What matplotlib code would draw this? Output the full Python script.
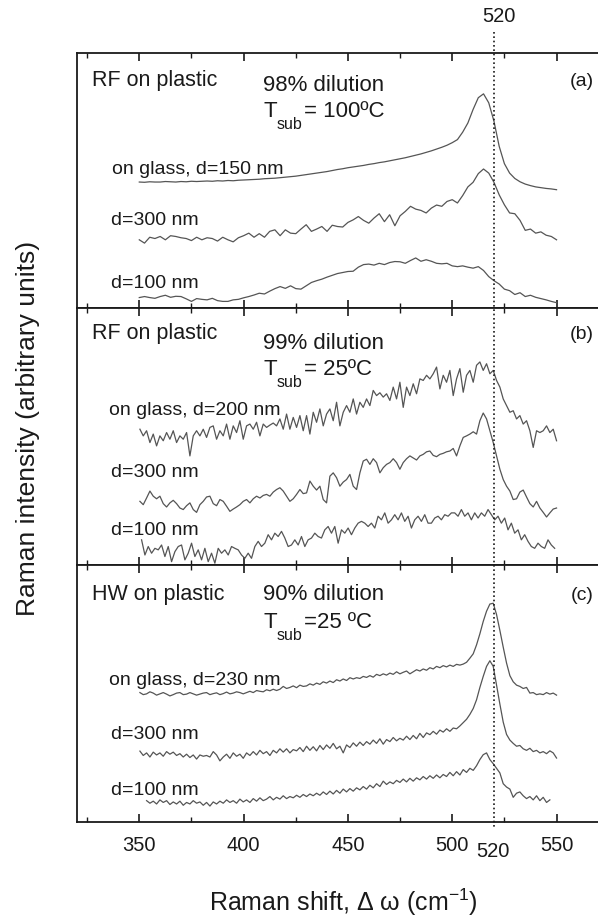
import numpy as np
import matplotlib.pyplot as plt
from matplotlib.lines import Line2D
from matplotlib.ticker import MultipleLocator
from matplotlib.transforms import blended_transform_factory

plt.rcParams['font.family'] = ['Liberation Sans', 'DejaVu Sans']

W, H = 598, 921

# (a) RF on plastic, 98% dilution, Tsub = 100 C
a_glass = [49.4, 49.3, 49.5, 49.4, 49.4, 49.6, 49.5, 49.4, 49.6, 49.5, 49.7,
           49.6, 49.7, 49.8, 49.7, 49.9, 49.8, 50.0, 49.9, 50.1, 50.2,
           50.3, 50.4, 50.5, 50.7, 50.8, 50.9, 51.1, 51.3, 51.5, 51.7,
           52.0, 52.3, 52.6, 52.9, 53.2, 53.5, 53.9, 54.3, 54.6, 55.0,
           55.3, 55.6, 55.9, 56.3, 56.6, 57.0, 57.3, 57.7, 58.1, 58.5,
           58.9, 59.4, 59.9, 60.4, 61.0, 61.6, 62.3, 63.0, 63.8, 64.8,
           66.0, 68.9, 72.5, 77.8, 82.4, 83.9, 80.4, 73.2, 63.4, 56.6,
           52.9, 50.8, 49.5, 48.6, 48.0, 47.5, 47.2, 46.9, 46.7, 46.4]
a_300 = [26.8, 25.5, 27.8, 27.3, 28.1, 26.8, 28.4, 28.1, 27.6, 27.3, 26.5,
         27.8, 26.8, 27.6, 27.3, 26.3, 27.8, 26.8, 26.0, 27.6, 28.4,
         29.4, 27.8, 29.2, 27.8, 30.1, 30.7, 28.4, 30.7, 29.4, 29.2,
         31.0, 32.7, 30.1, 31.0, 32.0, 30.1, 32.5, 32.0, 31.8, 33.6,
         34.6, 35.9, 34.4, 33.3, 35.3, 37.0, 33.9, 36.6, 32.3, 36.2,
         37.9, 39.9, 38.8, 38.3, 37.3, 39.2, 40.4, 39.9, 41.8, 42.5,
         41.2, 44.1, 47.5, 49.3, 52.7, 54.5, 52.9, 49.3, 44.4, 40.5,
         37.3, 37.0, 34.4, 30.5, 31.0, 29.4, 29.9, 28.6, 28.1, 26.8]
a_100 = [4.2, 4.6, 4.2, 3.9, 4.6, 5.1, 4.3, 4.7, 4.6, 3.7, 2.7,
         3.8, 3.5, 3.3, 3.9, 3.0, 2.7, 2.7, 3.3, 3.5, 4.1,
         4.6, 5.2, 5.9, 5.6, 6.7, 7.7, 8.5, 7.8, 8.8, 7.7,
         7.5, 8.8, 10.1, 10.8, 11.4, 12.2, 12.9, 13.6, 14.0, 14.4,
         14.5, 16.1, 17.1, 17.3, 16.9, 17.6, 17.1, 17.9, 18.3, 18.2,
         17.6, 18.7, 19.7, 18.4, 19.0, 18.4, 17.6, 17.4, 17.6, 16.6,
         16.3, 16.6, 16.1, 15.7, 16.3, 14.8, 12.4, 10.8, 9.5, 7.5,
         6.9, 5.4, 6.1, 4.6, 5.1, 4.3, 3.8, 3.3, 2.7, 2.2]

# (b) RF on plastic, 99% dilution, Tsub = 25 C
b_glass = [52.9, 50.3, 52.3, 47.7, 51.0, 46.4, 50.3, 48.4, 51.6, 49.0,
           52.3, 47.7, 50.3, 49.0, 51.6, 42.5, 50.3, 52.3, 50.3, 52.9,
           49.7, 53.6, 54.2, 49.0, 52.3, 50.3, 54.9, 49.0, 54.2, 51.6,
           56.2, 49.0, 54.2, 54.9, 52.9, 55.6, 50.3, 54.9, 53.6, 54.5,
           55.3, 54.2, 56.9, 52.9, 58.8, 52.9, 57.5, 53.6, 58.2, 52.3,
           58.2, 51.0, 59.5, 55.6, 60.8, 54.2, 58.8, 60.8, 56.2, 63.4,
           54.2, 59.5, 62.1, 59.5, 64.7, 58.8, 63.4, 61.4, 64.7, 62.1,
           68.0, 66.0, 67.1, 65.4, 66.7, 64.1, 69.3, 64.7, 71.2, 61.4,
           69.3, 66.0, 70.6, 66.7, 72.5, 71.9, 73.9, 72.5, 74.5, 77.1,
           68.6, 73.9, 71.2, 75.8, 66.0, 72.5, 76.5, 67.3, 73.9, 75.8,
           71.2, 77.8, 79.1, 75.8, 78.4, 74.5, 75.8, 71.9, 69.3, 64.7,
           62.1, 59.5, 60.1, 56.9, 58.2, 54.9, 56.2, 52.3, 45.8, 52.3,
           51.6, 52.3, 54.2, 51.6, 52.9, 48.4]
b_300 = [24.8, 23.5, 26.1, 28.8, 26.8, 25.8, 26.8, 23.9, 22.6, 24.2,
         25.2, 23.9, 22.2, 21.6, 23.1, 24.2, 21.6, 20.5, 23.5, 24.8,
         26.5, 26.8, 23.9, 23.1, 25.5, 24.8, 22.9, 20.9, 21.8, 22.6,
         23.5, 24.8, 25.5, 24.2, 25.8, 26.8, 26.1, 27.1, 27.5, 26.8,
         28.4, 29.4, 30.1, 28.8, 26.8, 24.8, 25.8, 27.5, 29.4, 27.8,
         28.1, 32.7, 30.7, 29.2, 30.7, 25.5, 24.2, 34.6, 35.9, 34.0,
         30.7, 32.3, 33.3, 35.3, 30.7, 29.4, 35.9, 40.5, 41.2, 39.2,
         41.4, 39.9, 35.9, 37.9, 39.2, 39.9, 41.4, 39.9, 37.3, 39.9,
         41.4, 42.5, 41.7, 40.9, 42.5, 43.1, 44.1, 44.4, 42.7, 42.2,
         43.1, 43.5, 44.1, 44.4, 45.4, 42.5, 46.4, 49.7, 50.3, 51.0,
         51.9, 51.0, 56.2, 59.2, 56.9, 52.3, 47.7, 42.5, 37.3, 33.3,
         30.7, 28.8, 25.5, 25.8, 28.4, 29.2, 26.5, 23.9, 22.6, 24.8,
         22.2, 20.5, 18.7, 20.3, 21.8, 22.2]
b_100 = [9.8, 3.9, 7.2, 4.6, 6.5, 5.9, 7.8, 3.3, 7.2, 1.3,
         5.2, 7.2, 7.8, 2.0, 4.6, 8.5, 3.3, 5.9, 2.0, 6.5,
         1.3, 4.6, 0.7, 6.5, 4.6, 5.9, 3.9, 7.2, 6.5, 5.9,
         3.9, 2.6, 4.6, 2.6, 7.2, 9.2, 7.2, 8.5, 11.8, 9.8,
         12.4, 11.1, 13.1, 10.5, 7.2, 7.8, 9.8, 7.8, 11.1, 7.2,
         9.8, 10.5, 12.4, 11.1, 10.5, 13.7, 15.0, 12.4, 15.0, 8.5,
         13.7, 12.4, 14.4, 11.8, 14.4, 16.3, 17.0, 16.3, 15.0, 16.3,
         14.4, 19.0, 17.6, 20.3, 16.3, 17.6, 19.6, 17.6, 20.3, 17.0,
         19.0, 14.4, 17.6, 19.0, 17.0, 19.6, 16.3, 16.3, 18.3, 19.0,
         17.6, 19.6, 19.0, 20.3, 20.3, 19.0, 21.6, 19.0, 20.3, 17.6,
         20.3, 18.3, 20.3, 19.0, 21.6, 19.6, 17.6, 19.0, 16.3, 18.3,
         13.7, 16.3, 12.4, 13.7, 9.8, 11.8, 9.2, 7.2, 6.5, 8.5,
         7.2, 6.5, 9.8, 7.8, 6.5]

# (c) HW on plastic, 90% dilution, Tsub = 25 C
c_glass = [50.3, 49.5, 49.8, 50.6, 50.1, 49.3, 49.8, 50.3, 49.7, 49.0,
           49.5, 50.1, 50.3, 49.5, 49.7, 50.3, 49.8, 49.3, 49.7, 50.1,
           50.3, 49.5, 49.9, 50.2, 49.5, 49.9, 50.5, 49.8, 50.1, 50.6,
           50.3, 49.8, 50.3, 50.8, 50.3, 51.1, 50.8, 50.6, 51.4, 51.0,
           51.6, 51.1, 51.6, 52.7, 51.9, 52.3, 52.9, 52.2, 53.2, 52.7,
           52.9, 53.7, 53.2, 54.0, 53.5, 54.5, 54.0, 54.8, 54.2, 55.3,
           54.8, 55.6, 55.0, 56.1, 55.6, 56.1, 55.8, 56.6, 56.2, 56.9,
           56.3, 57.4, 56.9, 57.6, 57.1, 57.9, 57.4, 58.4, 57.6, 58.2,
           58.7, 57.6, 58.4, 59.2, 58.7, 59.5, 59.0, 60.0, 59.5, 60.5,
           60.0, 60.8, 60.3, 61.0, 60.5, 61.3, 61.0, 61.4, 62.1, 63.7,
           65.4, 68.9, 73.2, 78.0, 82.0, 84.8, 85.1, 80.7, 74.5, 68.0,
           61.8, 56.9, 54.5, 53.2, 52.7, 51.9, 52.3, 50.1, 50.3, 49.5,
           49.8, 49.5, 50.3, 49.7, 50.1, 49.3]
c_300 = [27.5, 25.8, 26.8, 25.2, 27.1, 26.0, 26.8, 25.5, 27.3, 26.3,
         27.1, 25.8, 26.5, 25.2, 26.3, 25.0, 26.0, 24.4, 26.0, 25.5,
         25.8, 25.2, 27.3, 26.0, 23.7, 25.2, 26.3, 24.7, 26.8, 25.5,
         26.3, 24.7, 26.8, 25.8, 27.3, 26.0, 27.8, 26.5, 27.3, 25.8,
         27.8, 26.8, 28.4, 27.1, 28.4, 26.8, 28.1, 27.6, 28.9, 27.3,
         29.4, 27.8, 29.2, 27.6, 29.7, 28.1, 29.9, 28.6, 30.5, 28.4,
         29.4, 26.8, 29.9, 28.9, 30.7, 29.4, 31.0, 29.7, 31.2, 30.2,
         31.8, 30.5, 32.3, 30.2, 32.0, 31.2, 32.8, 31.5, 32.5, 31.8,
         33.3, 32.0, 33.6, 32.3, 34.4, 32.8, 34.6, 33.9, 35.2, 34.1,
         35.7, 34.9, 36.2, 35.2, 36.5, 36.2, 37.3, 38.6, 39.9, 41.8,
         44.1, 47.5, 52.3, 56.6, 60.5, 62.7, 60.5, 53.2, 45.8, 38.8,
         34.0, 31.8, 30.5, 29.4, 29.7, 28.4, 27.8, 28.6, 27.3, 27.8,
         26.8, 27.3, 26.5, 27.6, 26.8, 24.8]
c_100 = [8.2, 7.2, 8.0, 6.9, 8.5, 7.5, 8.2, 6.7, 7.7, 6.9,
         8.0, 6.4, 7.5, 6.9, 8.2, 7.2, 7.7, 6.4, 7.5, 6.1,
         7.7, 6.9, 8.0, 7.2, 8.5, 7.5, 8.2, 7.2, 8.8, 7.7,
         8.5, 7.5, 9.0, 8.0, 9.3, 8.2, 8.8, 9.8, 8.5, 9.5,
         8.8, 10.1, 9.0, 9.8, 9.3, 10.3, 9.5, 10.6, 9.8, 10.8,
         10.1, 11.1, 10.3, 11.6, 10.6, 11.9, 10.8, 12.2, 11.1, 12.7,
         11.6, 12.9, 11.9, 13.2, 12.4, 13.7, 12.7, 14.2, 13.2, 14.8,
         13.7, 15.8, 14.5, 15.5, 14.8, 16.1, 15.3, 16.6, 15.5, 16.9,
         15.8, 17.1, 16.3, 17.6, 16.6, 17.9, 16.9, 18.2, 17.1, 18.4,
         17.6, 19.2, 17.9, 19.5, 18.2, 20.3, 19.2, 20.8, 20.0, 21.8,
         24.2, 26.1, 26.8, 24.2, 22.6, 20.8, 19.0, 14.8, 13.5, 12.7,
         9.5, 11.1, 11.6, 10.1, 9.0, 9.8, 8.5, 10.1, 8.2, 9.5,
         7.5, 8.5]

panels = [
    {'tag': '(a)', 'method': 'RF on plastic', 'dil': '98% dilution', 'temp': '= 100ºC',
     'curves': [(350.0, 550.0, a_glass, 'on glass, d=150 nm'),
                (350.0, 550.0, a_300, 'd=300 nm'),
                (350.0, 550.0, a_100, 'd=100 nm')]},
    {'tag': '(b)', 'method': 'RF on plastic', 'dil': '99% dilution', 'temp': '= 25ºC',
     'curves': [(350.3, 550.0, b_glass, 'on glass, d=200 nm'),
                (350.3, 550.0, b_300, 'd=300 nm'),
                (351.1, 549.1, b_100, 'd=100 nm')]},
    {'tag': '(c)', 'method': 'HW on plastic', 'dil': '90% dilution', 'temp': '=25 ºC',
     'curves': [(350.3, 550.0, c_glass, 'on glass, d=230 nm'),
                (350.3, 550.0, c_300, 'd=300 nm'),
                (353.5, 546.8, c_100, 'd=100 nm')]},
]

# layout in reference pixels
edges = [52.7, 308.3, 565.0, 821.7]
title_y = [(86, 91, 117), (339, 349, 375), (600, 600, 628)]
label_y = [(174, 225, 288), (415, 477, 535), (685, 739, 795)]
label_x = [(112, 111, 111), (109, 111, 111), (109, 111, 111)]

line_color = '#555555'
ink = '#1a1a1a'


def px(x, y):
    return x / W, 1 - y / H


fig = plt.figure(figsize=(W / 100, H / 100), dpi=100)

axes = []
for i, p in enumerate(panels):
    top, bottom = edges[i], edges[i + 1]
    ax = fig.add_axes([76.7 / W, 1 - bottom / H, (608.7 - 76.7) / W, (bottom - top) / H])
    for x0, x1, vals, _ in p['curves']:
        x = np.linspace(x0, x1, len(vals))
        ax.plot(x, vals, color=line_color, lw=0.9)
    ax.set_xlim(320, 575)
    ax.set_ylim(0, 100)
    ax.xaxis.set_major_locator(MultipleLocator(50))
    ax.xaxis.set_minor_locator(MultipleLocator(25))
    ax.tick_params(axis='x', which='both', direction='in', top=True, bottom=True,
                   labelbottom=(i == 2), color=ink, labelsize=14.5, labelcolor=ink, pad=10)
    ax.tick_params(axis='x', which='major', length=6, width=1.2)
    ax.tick_params(axis='x', which='minor', length=3.5, width=1.0)
    ax.set_xticks([350, 400, 450, 500, 550])
    ax.tick_params(axis='y', left=False, labelleft=False)
    for s in ax.spines.values():
        s.set_color(ink)
        s.set_linewidth(1.3)
    axes.append(ax)

    # panel annotations
    ty_m, ty_d, ty_t = title_y[i]
    fig.text(*px(92, ty_m), p['method'], fontsize=15.5, color=ink, va='baseline')
    fig.text(*px(263, ty_d), p['dil'], fontsize=16, color=ink, va='baseline')
    fig.text(*px(263, ty_t), 'T', fontsize=16, color=ink, va='baseline')
    fig.text(*px(277, ty_t + 12), 'sub', fontsize=11.5, color=ink, va='baseline')
    fig.text(*px(304, ty_t), p['temp'], fontsize=16, color=ink, va='baseline')
    fig.text(*px(594, ty_m), p['tag'], fontsize=14, color=ink, va='baseline', ha='right')
    for (_, _, _, lab), lx, ly in zip(p['curves'], label_x[i], label_y[i]):
        fig.text(*px(lx, ly), lab, fontsize=14, color=ink, va='baseline')

# 520 cm-1 reference line across all panels
trans = blended_transform_factory(axes[2].transData, fig.transFigure)
fig.add_artist(Line2D([520, 520], [1 - 32 / H, 1 - 828 / H], transform=trans,
                      color=ink, lw=1.2, linestyle=(0, (1, 1.6))))
fig.text(*px(499, 17), '520', fontsize=14.5, color=ink, ha='center', va='center')
fig.text(*px(493, 851), '520', fontsize=14.5, color=ink, ha='center', va='center')

fig.text(*px(343, 911), r'Raman shift, Δ ω (cm$^{\mathregular{-1}}$)', fontsize=18,
         color=ink, ha='center', va='baseline')
fig.text(*px(28, 428), 'Raman intensity (arbitrary units)', fontsize=19, color=ink,
         rotation=90, ha='center', va='center')

fig.savefig('out.png', dpi=100)
